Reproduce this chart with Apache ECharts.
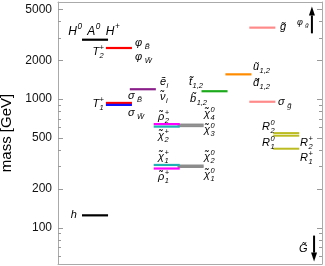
<!DOCTYPE html>
<html><head><meta charset="utf-8">
<script src="https://cdn.jsdelivr.net/npm/echarts@6/dist/echarts.min.js"></script>
<style>html,body{margin:0;padding:0;background:#fff}#c{width:325px;height:266px}</style>
</head><body><div id="c"></div>
<script>
// ---- data ----
const stateNames = ['H0 A0 H+','h','T2+','T1+ (a)','T1+ (b)','e_i / nu_i',
  'chi4/chi3 (a)','chi4/chi3 (b)','chi2/chi1 (a)','chi2/chi1 (b)',
  'rho2+','chi2+','chi1+','rho1+','t/b','u/d','gluino','sigma_g','R2 (a)','R2 (b)','R1'];
const stateColumn = [0,0,1,1,1,2,4,4,4,4,3,3,3,3,5,6,7,7,8,8,8];
const stateMass = [2900,125,2500,935,903,1195,635,617,305,297,640,612,308,289,1153,1560,3600,955,545,520,412];
const stateColorKey = ['k','k','r','r','b','p','g','g','g','g','m','c','c','m','gr','o','pk','pk','y','y','y'];
// out-of-range states drawn as arrows: [column, start mass, tip mass]
const arrowStates = [[9.62, 3250, 5260], [9.71, 87, 54.6]];
const majorTicks = [100,200,500,1000,2000,5000];
const minorTicks = [60,70,80,90,300,400,600,700,800,900,3000,4000];

// ---- styles / layout ----
const palette = {k:'#000000', r:'#ff0000', b:'#1010ff', p:'#8a1f8a', g:'#8c8c8c', m:'#ff00ff',
  c:'#1fb3b3', gr:'#1caa1c', o:'#ff8c00', pk:'#ff8a8a', y:'#bcbc22'};
const T = '\u0303';
const P = (b, sp, sb) => ({b, sp, sb});
const labelLayout = [
  [[P('H','0'),P('A','0'),P('H','+')], 0.50, 3370, 'center', 12],
  [[P('T','+','2')], 0.92, 2313, 'right'],
  [[P('φ',null,' B'+T)], 2.22, 2717, 'left'],
  [[P('φ',null,' W'+T)], 2.22, 2116, 'left'],
  [[P('T','+','1')], 0.92, 915, 'right'],
  [[P('σ',null,' B'+T)], 1.92, 1055, 'left'],
  [[P('σ',null,' W'+T)], 1.92, 779, 'left'],
  [[P('e'+T,null,'i')], 3.26, 1354, 'left'],
  [[P('ν'+T,null,'i')], 3.26, 1036, 'left'],
  [[P('t'+T,null,'1,2')], 4.48, 1354, 'left'],
  [[P('b'+T,null,'1,2')], 4.52, 1000, 'left'],
  [[P('u'+T,null,'1,2')], 7.15, 1771, 'left'],
  [[P('d'+T,null,'1,2')], 7.15, 1330, 'left'],
  [[P('σ',null,' g'+T)], 8.20, 948, 'left'],
  [[P('g'+T)], 8.28, 3614, 'left'],
  [[P('φ',null,' g'+T)], 9.0, 3956, 'left', 9],
  [[P('ρ'+T,'+','2')], 3.18, 725, 'left'],
  [[P('χ'+T,'+','2')], 3.18, 517, 'left'],
  [[P('χ'+T,'0','4')], 5.10, 765, 'left'],
  [[P('χ'+T,'0','3')], 5.10, 575, 'left'],
  [[P('χ'+T,'+','1')], 3.18, 355, 'left'],
  [[P('ρ'+T,'+','1')], 3.18, 249, 'left'],
  [[P('χ'+T,'0','2')], 5.10, 355, 'left'],
  [[P('χ'+T,'0','1')], 5.10, 257, 'left'],
  [[P('R','0','2')], 7.53, 607, 'left'],
  [[P('R','0','1')], 7.53, 456, 'left'],
  [[P('R','+','2')], 9.12, 456, 'left'],
  [[P('R','+','1')], 9.12, 349, 'left'],
  [[P('h')], -0.21, 125, 'right'],
  [[P('G'+T)], 9.08, 68.8, 'left']
];
const segLen = 1.09;
const F = 'Liberation Sans';
const lg = Math.log10;
const yMin = 1.7186, yMax = 3.7556;

const mctx = document.createElement('canvas').getContext('2d');
function tw(t, size) { mctx.font = 'italic ' + size + 'px "' + F + '"'; return mctx.measureText(t).width; }
function buildLabel(spec, px, py) {
  const pieces = spec[0], align = spec[3], size = spec[4] || 11, ss = size * 0.68;
  let x = 0; const items = [];
  pieces.forEach((pc, k) => {
    if (k > 0) x += size * 0.45;
    items.push({t:pc.b, x:x, dy:0, s:size});
    x += tw(pc.b, size);
    let w = 0;
    if (pc.sp) { items.push({t:pc.sp, x:x+0.5, dy:-size*0.4, s:ss}); w = Math.max(w, tw(pc.sp, ss)+0.5); }
    if (pc.sb) { items.push({t:pc.sb, x:x+0.5, dy:size*0.33, s:ss}); w = Math.max(w, tw(pc.sb, ss)+0.5); }
    x += w;
  });
  const off = align === 'right' ? -x : align === 'center' ? -x/2 : 0;
  return items.map(it => ({type:'text', x:px+off+it.x, y:py+it.dy,
    style:{text:it.t, fontSize:it.s, fontStyle:'italic', fontFamily:F, fill:'#000', align:'left', verticalAlign:'middle'}}));
}

function yAx(pos, ticks, len, showLine, showLabel, extra) {
  return Object.assign({
    type:'value', position:pos, min:yMin, max:yMax,
    axisLine:{show:showLine, onZero:false, lineStyle:{color:'#aaaaaa', width:1}},
    axisTick:{show:true, inside:true, length:len, customValues:ticks.map(lg), lineStyle:{color:'#999999'}},
    axisLabel:{show:showLabel, customValues:majorTicks.map(lg), formatter:v=>String(Math.round(Math.pow(10,v))),
      fontSize:12, color:'#111', margin:6, fontFamily:F},
    splitLine:{show:false}
  }, extra||{});
}
function xAx(pos) {
  return {type:'value', position:pos, min:-1.004, max:10.042,
    axisLine:{show:true, onZero:false, lineStyle:{color:'#aaaaaa', width:1}},
    axisTick:{show:false}, axisLabel:{show:false}, splitLine:{show:false}};
}

const chart = echarts.init(document.getElementById('c'), null, {renderer:'canvas'});
chart.setOption({
  animation:false,
  grid:{left:58, right:3, top:2, bottom:2, containLabel:false, outerBoundsMode:'none'},
  xAxis:[xAx('bottom'), xAx('top')],
  yAxis:[
    yAx('left', majorTicks, 5, true, true, {name:'mass [GeV]', nameLocation:'middle', nameGap:37,
      nameTextStyle:{fontSize:15, fontFamily:F, color:'#000'}}),
    yAx('left', minorTicks, 3, false, false),
    yAx('right', majorTicks, 5, true, false),
    yAx('right', minorTicks, 3, false, false)
  ],
  series:[
    {type:'custom', xAxisIndex:0, yAxisIndex:0, silent:true,
     data: stateMass.map((m,i)=>[stateColumn[i], lg(m), i]),
     renderItem:(params, api)=>{
       const i = api.value(2);
       const p0 = api.coord([api.value(0), api.value(1)]);
       const p1 = api.coord([api.value(0)+segLen, api.value(1)]);
       const grey = stateColorKey[i]==='g' || stateColorKey[i]==='y';
       return {type:'line', shape:{x1:p0[0], y1:p0[1], x2:p1[0], y2:p1[1]},
         style:{stroke:palette[stateColorKey[i]], lineWidth: grey?2:2.2}};
     }},
    {type:'custom', xAxisIndex:0, yAxisIndex:0, silent:true,
     data: arrowStates.map(a=>[a[0], lg(a[1]), lg(a[2])]),
     renderItem:(params, api)=>{
       const p0 = api.coord([api.value(0), api.value(1)]);
       const p1 = api.coord([api.value(0), api.value(2)]);
       const dir = p1[1] < p0[1] ? -1 : 1;
       const hl = 9, hw = 3;
       return {type:'group', children:[
         {type:'line', shape:{x1:p0[0], y1:p0[1], x2:p1[0], y2:p1[1]-dir*hl}, style:{stroke:'#000', lineWidth:2}},
         {type:'polygon', shape:{points:[[p1[0],p1[1]],[p1[0]-hw,p1[1]-dir*hl],[p1[0]+hw,p1[1]-dir*hl]]}, style:{fill:'#000'}}
       ]};
     }},
    {type:'custom', xAxisIndex:0, yAxisIndex:0, silent:true,
     data: labelLayout.map((l,i)=>[l[1], lg(l[2]), i]),
     renderItem:(params, api)=>{
       const i = api.value(2);
       const p = api.coord([api.value(0), api.value(1)]);
       return {type:'group', children: buildLabel(labelLayout[i], p[0], p[1])};
     }}
  ]
});
</script></body></html>
